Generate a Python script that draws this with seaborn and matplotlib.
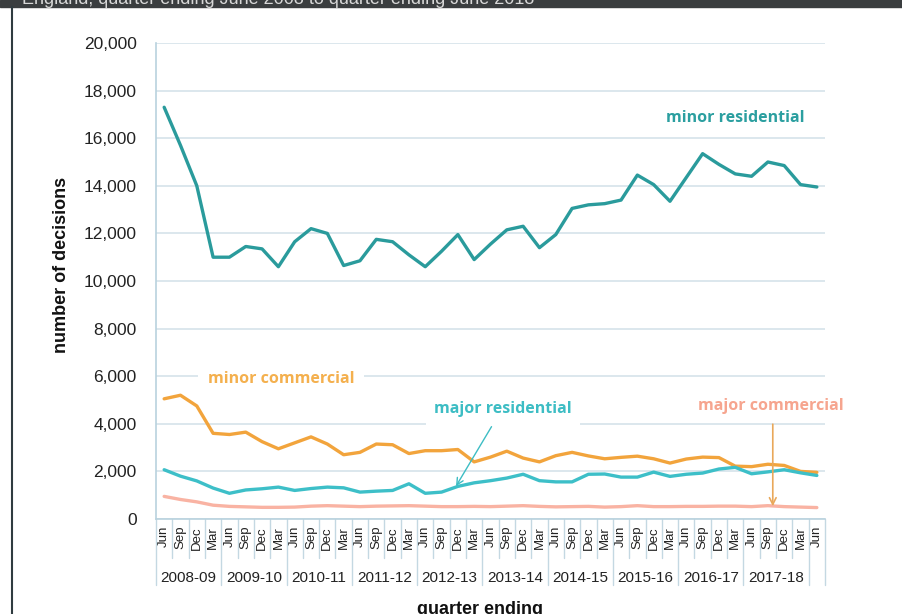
import matplotlib
matplotlib.use("Agg")
import matplotlib.pyplot as plt
import matplotlib.transforms as mtransforms
from matplotlib.patches import Rectangle
import numpy as np
import pandas as pd
import seaborn as sns

# quarters: Jun 2008 .. Jun 2018
months = ["Jun", "Sep", "Dec", "Mar"] * 10 + ["Jun"]
fin_years = ["2008-09", "2009-10", "2010-11", "2011-12", "2012-13",
             "2013-14", "2014-15", "2015-16", "2016-17", "2017-18"]

minor_residential = [17300, 15700, 14000, 11000, 11000, 11450, 11350, 10600, 11650, 12200,
                     12000, 10650, 10850, 11750, 11650, 11100, 10600, 11250, 11950, 10900,
                     11550, 12150, 12300, 11400, 11950, 13050, 13200, 13250, 13400, 14450,
                     14050, 13350, 14350, 15350, 14900, 14500, 14400, 15000, 14850, 14050, 13950]
minor_commercial = [5050, 5200, 4750, 3600, 3550, 3650, 3250, 2950, 3200, 3450,
                    3150, 2700, 2800, 3150, 3120, 2750, 2870, 2870, 2920, 2400,
                    2600, 2850, 2560, 2400, 2660, 2800, 2650, 2530, 2590, 2640,
                    2530, 2350, 2520, 2600, 2580, 2220, 2200, 2300, 2250, 2000, 1960]
major_residential = [2070, 1800, 1600, 1300, 1080, 1220, 1270, 1340, 1200, 1280,
                     1340, 1310, 1130, 1170, 1200, 1480, 1080, 1130, 1370, 1520,
                     1610, 1720, 1880, 1610, 1560, 1560, 1880, 1890, 1760, 1760,
                     1970, 1790, 1880, 1930, 2100, 2170, 1900, 1980, 2070, 1940, 1830]
major_commercial = [950, 820, 720, 580, 530, 510, 490, 490, 500, 540,
                    560, 540, 520, 540, 550, 560, 540, 520, 520, 530,
                    520, 540, 560, 530, 510, 520, 530, 500, 520, 560,
                    520, 520, 530, 530, 540, 540, 520, 560, 520, 500, 480]

series = {
    "minor residential": minor_residential,
    "minor commercial": minor_commercial,
    "major residential": major_residential,
    "major commercial": major_commercial,
}
colors = {
    "minor residential": "#2a9b9c",
    "minor commercial": "#f2a43c",
    "major residential": "#3dbfc8",
    "major commercial": "#f9b3a3",
}

df = pd.concat([pd.DataFrame({"q": np.arange(len(v)), "n": v, "type": k}) for k, v in series.items()])

sns.set_theme(style="white")
plt.rcParams["font.family"] = ["Liberation Sans", "DejaVu Sans"]

fig = plt.figure(figsize=(9.02, 6.14), dpi=100)
ax = fig.add_axes([156 / 902, 95 / 614, 669 / 902, 476 / 614])

grid_c = "#d6e3ea"
sns.lineplot(data=df, x="q", y="n", hue="type", palette=colors, linewidth=2.4,
             legend=False, ax=ax, zorder=3)

ax.set_xlim(-0.5, 40.5)
ax.set_ylim(0, 20000)
ax.set_yticks(np.arange(0, 20001, 2000))
ax.set_yticklabels([f"{v:,}" for v in range(0, 20001, 2000)], fontsize=12.5, color="#222222")
ax.yaxis.grid(True, color=grid_c, linewidth=1.2)
ax.tick_params(axis="y", length=0, pad=14)
ax.set_xticks(range(len(months)))
ax.set_xticklabels(months, rotation=90, fontsize=9.5, color="#222222")
ax.tick_params(axis="x", length=0, pad=5)
ax.set_xlabel("")
ax.set_ylabel("")
for s in ["top", "right"]:
    ax.spines[s].set_visible(False)
ax.spines["left"].set_color("#b9d2de")
ax.spines["bottom"].set_color("#b9d2de")
ax.spines["left"].set_linewidth(1.2)
ax.spines["bottom"].set_linewidth(1.2)

# category separators under the axis
trans = mtransforms.blended_transform_factory(ax.transData, ax.transAxes)
for i in range(len(months) + 1):
    b = i - 0.5
    depth = -0.139 if (i % 4 == 0 or i == len(months)) else -0.082
    ax.plot([b, b], [0, depth], color="#c4d8e2", lw=1, transform=trans, clip_on=False)
for k, fy in enumerate(fin_years):
    ax.text(4 * k + 1.5, -0.124, fy, transform=trans, ha="center", va="center",
            fontsize=11, color="#222222")

# labels
fig.text(62 / 902, 1 - 265 / 614, "number of decisions", rotation=90, ha="center",
         va="center", fontsize=13, fontweight="bold", color="#111111")
fig.text(480 / 902, 1 - 601 / 614, "quarter ending", ha="center", va="top",
         fontsize=13, fontweight="bold", color="#111111")

# series annotations
lab_font = ["Open Sans", "DejaVu Sans"]
ax.text(35.0, 16860, "minor residential", color="#2b9fa0", fontsize=11.5, fontweight="bold",
        ha="center", va="center", family=lab_font)
ax.text(7.15, 5870, "minor commercial", color="#f4b04e", fontsize=11.5, fontweight="bold",
        ha="center", va="center", family=lab_font, zorder=4,
        bbox=dict(boxstyle="square,pad=0.6", fc="white", ec="none"))
ax.text(20.75, 4610, "major residential", color="#3dbdc4", fontsize=11.5, fontweight="bold",
        ha="center", va="center", family=lab_font, zorder=4,
        bbox=dict(boxstyle="square,pad=0.5", fc="white", ec="none"))
ax.text(37.2, 4740, "major commercial", color="#f6a58f", fontsize=11.5, fontweight="bold",
        ha="center", va="center", family=lab_font, zorder=4,
        bbox=dict(boxstyle="square,pad=0.5", fc="white", ec="none"))
ax.annotate("", xy=(17.8, 1280), xytext=(20.15, 3980),
            arrowprops=dict(arrowstyle="->", color="#3dbdc4", lw=1), zorder=5)
ax.annotate("", xy=(37.3, 420), xytext=(37.3, 4100),
            arrowprops=dict(arrowstyle="->", color="#e9a85a", lw=1.2), zorder=5)

# frame of the original screenshot
fig.patches.append(Rectangle((0, 1 - 7 / 614), 1, 7 / 614, transform=fig.transFigure,
                             color="#3a3d3f", zorder=0))
fig.text(22 / 902, 1 - 4 / 614, "England, quarter ending June 2008 to quarter ending June 2018",
         color="#d8d8d8", fontsize=13, va="baseline", ha="left")
fig.add_artist(plt.Line2D([12 / 902, 12 / 902], [0, 1 - 7 / 614], color="#2f3b40", lw=1.5,
                          transform=fig.transFigure))

fig.savefig("out.png", dpi=100)
